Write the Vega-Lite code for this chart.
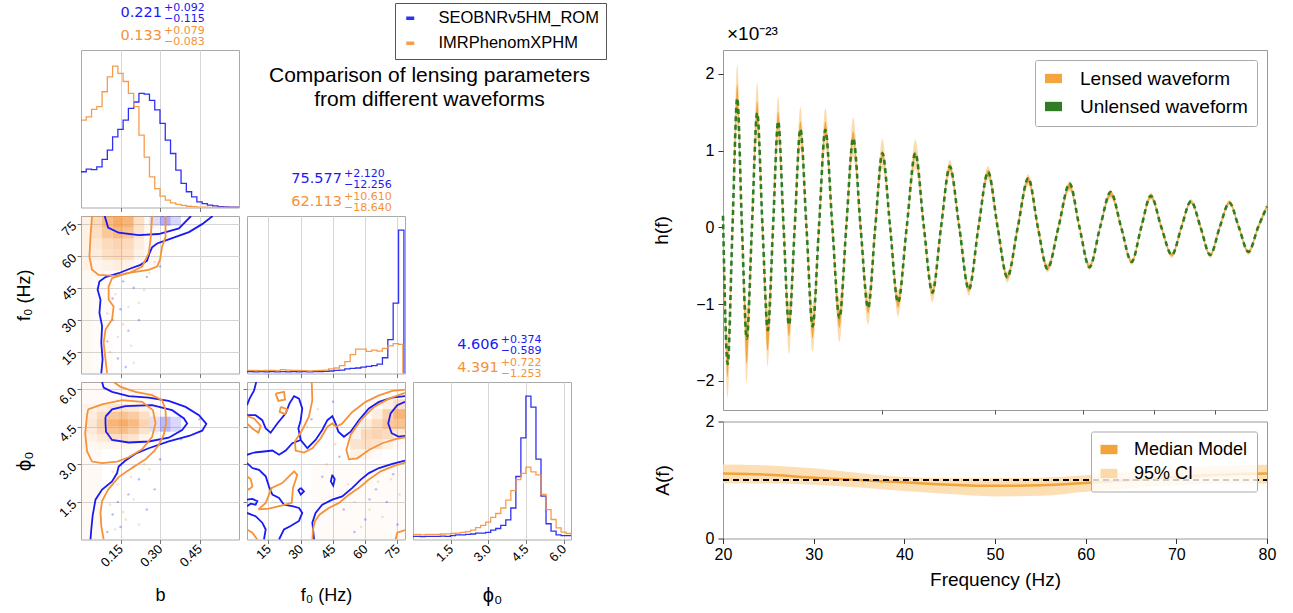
{
"$schema": "https://vega.github.io/schema/vega-lite/v6.json",
"background": "white",
"padding": {"left": 13, "top": 1, "right": 5, "bottom": 5},
"config": {
 "font": "Liberation Sans",
 "view": {"stroke": "#aaaaaa"},
 "axis": {"labelFont": "Liberation Sans", "titleFont": "Liberation Sans", "titleFontWeight": "normal", "labelColor": "#000000", "titleColor": "#000000", "domain": false, "tickColor": "#777777", "gridColor": "#d6d6d6", "tickSize": 4, "labelOverlap": false, "labelFlush": false},
 "legend": {"labelFont": "Liberation Sans", "labelColor": "#000000", "labelLimit": 400},
 "title": {"font": "Liberation Sans", "fontWeight": "normal", "color": "#000000"}
},
"datasets": {
 "hb": [
  {"m":"S","b":0,"v":0.227},{"m":"S","b":0.02,"v":0.244},{"m":"S","b":0.04,"v":0.24},{"m":"S","b":0.06,"v":0.258},{"m":"S","b":0.08,"v":0.305},{"m":"S","b":0.1,"v":0.364},{"m":"S","b":0.12,"v":0.449},{"m":"S","b":0.14,"v":0.496},{"m":"S","b":0.16,"v":0.555},{"m":"S","b":0.18,"v":0.63},{"m":"S","b":0.2,"v":0.67},{"m":"S","b":0.22,"v":0.725},{"m":"S","b":0.24,"v":0.72},{"m":"S","b":0.26,"v":0.68},{"m":"S","b":0.28,"v":0.62},{"m":"S","b":0.3,"v":0.534},{"m":"S","b":0.32,"v":0.428},{"m":"S","b":0.34,"v":0.343},{"m":"S","b":0.36,"v":0.237},{"m":"S","b":0.38,"v":0.153},{"m":"S","b":0.4,"v":0.1},{"m":"S","b":0.42,"v":0.068},{"m":"S","b":0.44,"v":0.036},{"m":"S","b":0.46,"v":0.025},{"m":"S","b":0.48,"v":0.015},{"m":"S","b":0.5,"v":0.01},{"m":"S","b":0.52,"v":0.006},{"m":"S","b":0.54,"v":0.004},{"m":"S","b":0.56,"v":0.003},{"m":"S","b":0.58,"v":0.002},{"m":"S","b":0.6,"v":0.002},
  {"m":"O","b":0,"v":0.555},{"m":"O","b":0.02,"v":0.576},{"m":"O","b":0.04,"v":0.623},{"m":"O","b":0.06,"v":0.64},{"m":"O","b":0.08,"v":0.735},{"m":"O","b":0.1,"v":0.83},{"m":"O","b":0.12,"v":0.898},{"m":"O","b":0.14,"v":0.852},{"m":"O","b":0.16,"v":0.8},{"m":"O","b":0.18,"v":0.725},{"m":"O","b":0.2,"v":0.64},{"m":"O","b":0.22,"v":0.46},{"m":"O","b":0.24,"v":0.32},{"m":"O","b":0.26,"v":0.195},{"m":"O","b":0.28,"v":0.12},{"m":"O","b":0.3,"v":0.072},{"m":"O","b":0.32,"v":0.047},{"m":"O","b":0.34,"v":0.03},{"m":"O","b":0.36,"v":0.02},{"m":"O","b":0.38,"v":0.013},{"m":"O","b":0.4,"v":0.008},{"m":"O","b":0.42,"v":0.005},{"m":"O","b":0.44,"v":0.003},{"m":"O","b":0.46,"v":0.002},{"m":"O","b":0.48,"v":0.001},{"m":"O","b":0.5,"v":0.001},{"m":"O","b":0.52,"v":0},{"m":"O","b":0.6,"v":0}
 ],
 "hf": [
  {"m":"S","f":5,"v":0.012},{"m":"S","f":8,"v":0.01},{"m":"S","f":10.5,"v":0.012},{"m":"S","f":13,"v":0.01},{"m":"S","f":15.5,"v":0.012},{"m":"S","f":18,"v":0.01},{"m":"S","f":20.5,"v":0.012},{"m":"S","f":23,"v":0.01},{"m":"S","f":25.5,"v":0.012},{"m":"S","f":28,"v":0.01},{"m":"S","f":30.5,"v":0.012},{"m":"S","f":33,"v":0.01},{"m":"S","f":35.5,"v":0.012},{"m":"S","f":38,"v":0.012},{"m":"S","f":40.5,"v":0.014},{"m":"S","f":43,"v":0.016},{"m":"S","f":45.5,"v":0.02},{"m":"S","f":48,"v":0.022},{"m":"S","f":50.5,"v":0.03},{"m":"S","f":53,"v":0.033},{"m":"S","f":55.5,"v":0.035},{"m":"S","f":58,"v":0.04},{"m":"S","f":60.5,"v":0.045},{"m":"S","f":63,"v":0.05},{"m":"S","f":65.5,"v":0.06},{"m":"S","f":68,"v":0.1},{"m":"S","f":70.5,"v":0.215},{"m":"S","f":73,"v":0.447},{"m":"S","f":75.5,"v":0.91},{"m":"S","f":78,"v":0},
  {"m":"O","f":5,"v":0.02},{"m":"O","f":8,"v":0.02},{"m":"O","f":10.5,"v":0.018},{"m":"O","f":13,"v":0.02},{"m":"O","f":15.5,"v":0.02},{"m":"O","f":18,"v":0.018},{"m":"O","f":20.5,"v":0.025},{"m":"O","f":23,"v":0.022},{"m":"O","f":25.5,"v":0.02},{"m":"O","f":28,"v":0.02},{"m":"O","f":30.5,"v":0.018},{"m":"O","f":33,"v":0.016},{"m":"O","f":35.5,"v":0.018},{"m":"O","f":38,"v":0.02},{"m":"O","f":40.5,"v":0.022},{"m":"O","f":43,"v":0.03},{"m":"O","f":45.5,"v":0.035},{"m":"O","f":48,"v":0.05},{"m":"O","f":50.5,"v":0.075},{"m":"O","f":53,"v":0.12},{"m":"O","f":55.5,"v":0.155},{"m":"O","f":58,"v":0.155},{"m":"O","f":60.5,"v":0.14},{"m":"O","f":63,"v":0.148},{"m":"O","f":65.5,"v":0.142},{"m":"O","f":68,"v":0.16},{"m":"O","f":70.5,"v":0.175},{"m":"O","f":73,"v":0.19},{"m":"O","f":75.5,"v":0.185},{"m":"O","f":77.5,"v":0}
 ],
 "hp": [
  {"m":"S","p":0,"v":0.02},{"m":"S","p":0.29,"v":0.018},{"m":"S","p":0.49,"v":0.02},{"m":"S","p":0.69,"v":0.02},{"m":"S","p":0.89,"v":0.02},{"m":"S","p":1.09,"v":0.022},{"m":"S","p":1.29,"v":0.02},{"m":"S","p":1.49,"v":0.025},{"m":"S","p":1.69,"v":0.03},{"m":"S","p":1.89,"v":0.03},{"m":"S","p":2.09,"v":0.032},{"m":"S","p":2.29,"v":0.035},{"m":"S","p":2.49,"v":0.04},{"m":"S","p":2.69,"v":0.04},{"m":"S","p":2.89,"v":0.045},{"m":"S","p":3.09,"v":0.06},{"m":"S","p":3.29,"v":0.07},{"m":"S","p":3.49,"v":0.09},{"m":"S","p":3.69,"v":0.125},{"m":"S","p":3.89,"v":0.2},{"m":"S","p":4.09,"v":0.4},{"m":"S","p":4.29,"v":0.645},{"m":"S","p":4.49,"v":0.91},{"m":"S","p":4.69,"v":0.84},{"m":"S","p":4.89,"v":0.51},{"m":"S","p":5.09,"v":0.275},{"m":"S","p":5.29,"v":0.1},{"m":"S","p":5.49,"v":0.053},{"m":"S","p":5.69,"v":0.03},{"m":"S","p":5.89,"v":0.025},{"m":"S","p":6.09,"v":0.025},{"m":"S","p":6.283,"v":0.025},
  {"m":"O","p":0,"v":0.032},{"m":"O","p":0.29,"v":0.03},{"m":"O","p":0.49,"v":0.032},{"m":"O","p":0.69,"v":0.032},{"m":"O","p":0.89,"v":0.033},{"m":"O","p":1.09,"v":0.035},{"m":"O","p":1.29,"v":0.036},{"m":"O","p":1.49,"v":0.038},{"m":"O","p":1.69,"v":0.04},{"m":"O","p":1.89,"v":0.045},{"m":"O","p":2.09,"v":0.05},{"m":"O","p":2.29,"v":0.06},{"m":"O","p":2.49,"v":0.075},{"m":"O","p":2.69,"v":0.09},{"m":"O","p":2.89,"v":0.11},{"m":"O","p":3.09,"v":0.14},{"m":"O","p":3.29,"v":0.165},{"m":"O","p":3.49,"v":0.2},{"m":"O","p":3.69,"v":0.25},{"m":"O","p":3.89,"v":0.31},{"m":"O","p":4.09,"v":0.38},{"m":"O","p":4.29,"v":0.42},{"m":"O","p":4.49,"v":0.46},{"m":"O","p":4.69,"v":0.43},{"m":"O","p":4.89,"v":0.41},{"m":"O","p":5.09,"v":0.286},{"m":"O","p":5.29,"v":0.19},{"m":"O","p":5.49,"v":0.127},{"m":"O","p":5.69,"v":0.074},{"m":"O","p":5.89,"v":0.047},{"m":"O","p":6.09,"v":0.038},{"m":"O","p":6.283,"v":0.038}
 ],
 "ann": [
  {"param":"b","m":"S","main":"0.221","sup":"+0.092","sub":"−0.115"},
  {"param":"b","m":"O","main":"0.133","sup":"+0.079","sub":"−0.083"},
  {"param":"f0","m":"S","main":"75.577","sup":"+2.120","sub":"−12.256"},
  {"param":"f0","m":"O","main":"62.113","sup":"+10.610","sub":"−18.640"},
  {"param":"phi0","m":"S","main":"4.606","sup":"+0.374","sub":"−0.589"},
  {"param":"phi0","m":"O","main":"4.391","sup":"+0.722","sub":"−1.253"}
 ],
 "dbf": [
  {"m":"O","b1":0.04,"b2":0.08,"f1":73,"f2":78.5,"d":0.4},{"m":"O","b1":0.08,"b2":0.12,"f1":73,"f2":78.5,"d":0.75},{"m":"O","b1":0.12,"b2":0.16,"f1":73,"f2":78.5,"d":0.9},{"m":"O","b1":0.16,"b2":0.2,"f1":73,"f2":78.5,"d":0.8},{"m":"O","b1":0.2,"b2":0.24,"f1":73,"f2":78.5,"d":0.35},
  {"m":"O","b1":0.04,"b2":0.08,"f1":68,"f2":73,"d":0.35},{"m":"O","b1":0.08,"b2":0.12,"f1":68,"f2":73,"d":0.6},{"m":"O","b1":0.12,"b2":0.16,"f1":68,"f2":73,"d":0.75},{"m":"O","b1":0.16,"b2":0.2,"f1":68,"f2":73,"d":0.65},{"m":"O","b1":0.2,"b2":0.24,"f1":68,"f2":73,"d":0.3},
  {"m":"O","b1":0.04,"b2":0.08,"f1":63,"f2":68,"d":0.25},{"m":"O","b1":0.08,"b2":0.12,"f1":63,"f2":68,"d":0.4},{"m":"O","b1":0.12,"b2":0.16,"f1":63,"f2":68,"d":0.45},{"m":"O","b1":0.16,"b2":0.2,"f1":63,"f2":68,"d":0.4},{"m":"O","b1":0.2,"b2":0.24,"f1":63,"f2":68,"d":0.2},
  {"m":"O","b1":0.04,"b2":0.08,"f1":58,"f2":63,"d":0.2},{"m":"O","b1":0.08,"b2":0.12,"f1":58,"f2":63,"d":0.35},{"m":"O","b1":0.12,"b2":0.16,"f1":58,"f2":63,"d":0.4},{"m":"O","b1":0.16,"b2":0.2,"f1":58,"f2":63,"d":0.35},{"m":"O","b1":0.2,"b2":0.24,"f1":58,"f2":63,"d":0.15},
  {"m":"O","b1":0.04,"b2":0.08,"f1":53,"f2":58,"d":0.1},{"m":"O","b1":0.08,"b2":0.12,"f1":53,"f2":58,"d":0.15},{"m":"O","b1":0.12,"b2":0.16,"f1":53,"f2":58,"d":0.2},{"m":"O","b1":0.16,"b2":0.2,"f1":53,"f2":58,"d":0.15},{"m":"O","b1":0.2,"b2":0.24,"f1":53,"f2":58,"d":0.05},
  {"m":"O","b1":0,"b2":0.04,"f1":53,"f2":78.5,"d":0.15},{"m":"O","b1":0,"b2":0.04,"f1":5,"f2":53,"d":0.08},{"m":"O","b1":0.04,"b2":0.12,"f1":5,"f2":53,"d":0.04},{"m":"O","b1":0.24,"b2":0.3,"f1":53,"f2":78.5,"d":0.06},
  {"m":"S","b1":0.26,"b2":0.3,"f1":74,"f2":78.5,"d":0.15},{"m":"S","b1":0.3,"b2":0.34,"f1":74,"f2":78.5,"d":0.4},{"m":"S","b1":0.34,"b2":0.38,"f1":74,"f2":78.5,"d":0.2}
 ],
 "dpb": [
  {"m":"O","b1":0.02,"b2":0.06,"p1":5.1,"p2":5.4,"d":0.12},{"m":"O","b1":0.06,"b2":0.1,"p1":5.1,"p2":5.4,"d":0.2},{"m":"O","b1":0.1,"b2":0.14,"p1":5.1,"p2":5.4,"d":0.28},{"m":"O","b1":0.14,"b2":0.18,"p1":5.1,"p2":5.4,"d":0.3},{"m":"O","b1":0.18,"b2":0.22,"p1":5.1,"p2":5.4,"d":0.25},{"m":"O","b1":0.22,"b2":0.26,"p1":5.1,"p2":5.4,"d":0.15},{"m":"O","b1":0.26,"b2":0.3,"p1":5.1,"p2":5.4,"d":0.05},
  {"m":"O","b1":0.02,"b2":0.06,"p1":4.8,"p2":5.1,"d":0.2},{"m":"O","b1":0.06,"b2":0.1,"p1":4.8,"p2":5.1,"d":0.4},{"m":"O","b1":0.1,"b2":0.14,"p1":4.8,"p2":5.1,"d":0.6},{"m":"O","b1":0.14,"b2":0.18,"p1":4.8,"p2":5.1,"d":0.65},{"m":"O","b1":0.18,"b2":0.22,"p1":4.8,"p2":5.1,"d":0.55},{"m":"O","b1":0.22,"b2":0.26,"p1":4.8,"p2":5.1,"d":0.35},{"m":"O","b1":0.26,"b2":0.3,"p1":4.8,"p2":5.1,"d":0.1},
  {"m":"O","b1":0.02,"b2":0.06,"p1":4.5,"p2":4.8,"d":0.25},{"m":"O","b1":0.06,"b2":0.1,"p1":4.5,"p2":4.8,"d":0.5},{"m":"O","b1":0.1,"b2":0.14,"p1":4.5,"p2":4.8,"d":0.8},{"m":"O","b1":0.14,"b2":0.18,"p1":4.5,"p2":4.8,"d":0.9},{"m":"O","b1":0.18,"b2":0.22,"p1":4.5,"p2":4.8,"d":0.75},{"m":"O","b1":0.22,"b2":0.26,"p1":4.5,"p2":4.8,"d":0.45},{"m":"O","b1":0.26,"b2":0.3,"p1":4.5,"p2":4.8,"d":0.12},
  {"m":"O","b1":0.02,"b2":0.06,"p1":4.2,"p2":4.5,"d":0.22},{"m":"O","b1":0.06,"b2":0.1,"p1":4.2,"p2":4.5,"d":0.42},{"m":"O","b1":0.1,"b2":0.14,"p1":4.2,"p2":4.5,"d":0.65},{"m":"O","b1":0.14,"b2":0.18,"p1":4.2,"p2":4.5,"d":0.7},{"m":"O","b1":0.18,"b2":0.22,"p1":4.2,"p2":4.5,"d":0.55},{"m":"O","b1":0.22,"b2":0.26,"p1":4.2,"p2":4.5,"d":0.3},{"m":"O","b1":0.26,"b2":0.3,"p1":4.2,"p2":4.5,"d":0.08},
  {"m":"O","b1":0.02,"b2":0.06,"p1":3.9,"p2":4.2,"d":0.15},{"m":"O","b1":0.06,"b2":0.1,"p1":3.9,"p2":4.2,"d":0.25},{"m":"O","b1":0.1,"b2":0.14,"p1":3.9,"p2":4.2,"d":0.35},{"m":"O","b1":0.14,"b2":0.18,"p1":3.9,"p2":4.2,"d":0.35},{"m":"O","b1":0.18,"b2":0.22,"p1":3.9,"p2":4.2,"d":0.28},{"m":"O","b1":0.22,"b2":0.26,"p1":3.9,"p2":4.2,"d":0.12},{"m":"O","b1":0.26,"b2":0.3,"p1":3.9,"p2":4.2,"d":0.03},
  {"m":"O","b1":0.02,"b2":0.06,"p1":3.6,"p2":3.9,"d":0.08},{"m":"O","b1":0.06,"b2":0.1,"p1":3.6,"p2":3.9,"d":0.1},{"m":"O","b1":0.1,"b2":0.14,"p1":3.6,"p2":3.9,"d":0.12},{"m":"O","b1":0.14,"b2":0.18,"p1":3.6,"p2":3.9,"d":0.1},{"m":"O","b1":0.18,"b2":0.22,"p1":3.6,"p2":3.9,"d":0.06},{"m":"O","b1":0.22,"b2":0.26,"p1":3.6,"p2":3.9,"d":0.03},
  {"m":"O","b1":0,"b2":0.02,"p1":3.6,"p2":5.4,"d":0.12},{"m":"O","b1":0,"b2":0.08,"p1":0,"p2":3.6,"d":0.06},{"m":"O","b1":0,"b2":0.3,"p1":5.4,"p2":6.283,"d":0.05},
  {"m":"S","b1":0.26,"b2":0.3,"p1":4.3,"p2":4.9,"d":0.12},{"m":"S","b1":0.3,"b2":0.34,"p1":4.3,"p2":4.9,"d":0.35},{"m":"S","b1":0.34,"b2":0.38,"p1":4.3,"p2":4.9,"d":0.2}
 ],
 "dpf": [
  {"m":"O","f1":73,"f2":78.5,"p1":3.6,"p2":4.0,"d":0.05},{"m":"O","f1":73,"f2":78.5,"p1":4.0,"p2":4.4,"d":0.25},{"m":"O","f1":73,"f2":78.5,"p1":4.4,"p2":4.8,"d":0.65},{"m":"O","f1":73,"f2":78.5,"p1":4.8,"p2":5.2,"d":0.8},{"m":"O","f1":73,"f2":78.5,"p1":5.2,"p2":5.6,"d":0.35},
  {"m":"O","f1":68,"f2":73,"p1":3.6,"p2":4.0,"d":0.15},{"m":"O","f1":68,"f2":73,"p1":4.0,"p2":4.4,"d":0.4},{"m":"O","f1":68,"f2":73,"p1":4.4,"p2":4.8,"d":0.6},{"m":"O","f1":68,"f2":73,"p1":4.8,"p2":5.2,"d":0.5},{"m":"O","f1":68,"f2":73,"p1":5.2,"p2":5.6,"d":0.15},
  {"m":"O","f1":63,"f2":68,"p1":3.2,"p2":3.6,"d":0.05},{"m":"O","f1":63,"f2":68,"p1":3.6,"p2":4.0,"d":0.3},{"m":"O","f1":63,"f2":68,"p1":4.0,"p2":4.4,"d":0.45},{"m":"O","f1":63,"f2":68,"p1":4.4,"p2":4.8,"d":0.4},{"m":"O","f1":63,"f2":68,"p1":4.8,"p2":5.2,"d":0.2},{"m":"O","f1":63,"f2":68,"p1":5.2,"p2":5.6,"d":0.05},
  {"m":"O","f1":58,"f2":63,"p1":3.2,"p2":3.6,"d":0.1},{"m":"O","f1":58,"f2":63,"p1":3.6,"p2":4.0,"d":0.35},{"m":"O","f1":58,"f2":63,"p1":4.0,"p2":4.4,"d":0.4},{"m":"O","f1":58,"f2":63,"p1":4.4,"p2":4.8,"d":0.2},{"m":"O","f1":58,"f2":63,"p1":4.8,"p2":5.2,"d":0.05},
  {"m":"O","f1":53,"f2":58,"p1":3.2,"p2":3.6,"d":0.15},{"m":"O","f1":53,"f2":58,"p1":3.6,"p2":4.0,"d":0.3},{"m":"O","f1":53,"f2":58,"p1":4.0,"p2":4.4,"d":0.15},{"m":"O","f1":53,"f2":58,"p1":4.4,"p2":4.8,"d":0.03},
  {"m":"O","f1":35,"f2":78.5,"p1":0,"p2":3.0,"d":0.04}
 ],
 "pbf": [
  {"m":"S","b":0.12,"f0":40},{"m":"S","b":0.15,"f0":35},{"m":"S","b":0.18,"f0":25},{"m":"S","b":0.1,"f0":20},{"m":"S","b":0.14,"f0":12},{"m":"S","b":0.2,"f0":45},{"m":"S","b":0.25,"f0":50},{"m":"S","b":0.17,"f0":8},{"m":"S","b":0.3,"f0":55},{"m":"S","b":0.12,"f0":30},{"m":"S","b":0.22,"f0":30},{"m":"S","b":0.16,"f0":48},
  {"m":"O","b":0.13,"f0":42},{"m":"O","b":0.16,"f0":28},{"m":"O","b":0.11,"f0":15},{"m":"O","b":0.22,"f0":38},{"m":"O","b":0.19,"f0":18},{"m":"O","b":0.26,"f0":52},{"m":"O","b":0.14,"f0":22},{"m":"O","b":0.2,"f0":10},{"m":"O","b":0.28,"f0":57},{"m":"O","b":0.1,"f0":33},{"m":"O","b":0.24,"f0":44},{"m":"O","b":0.18,"f0":36}
 ],
 "ppb": [
  {"m":"S","b":0.12,"p":1.0},{"m":"S","b":0.15,"p":0.5},{"m":"S","b":0.18,"p":1.8},{"m":"S","b":0.22,"p":2.4},{"m":"S","b":0.3,"p":3.2},{"m":"S","b":0.25,"p":1.2},{"m":"S","b":0.38,"p":4.0},{"m":"S","b":0.45,"p":4.8},{"m":"S","b":0.1,"p":0.3},{"m":"S","b":0.2,"p":2.9},{"m":"S","b":0.28,"p":2.0},{"m":"S","b":0.14,"p":1.5},
  {"m":"O","b":0.11,"p":1.4},{"m":"O","b":0.14,"p":2.2},{"m":"O","b":0.17,"p":0.8},{"m":"O","b":0.2,"p":1.6},{"m":"O","b":0.26,"p":2.8},{"m":"O","b":0.13,"p":0.4},{"m":"O","b":0.24,"p":3.0},{"m":"O","b":0.19,"p":2.5},{"m":"O","b":0.28,"p":3.5},{"m":"O","b":0.16,"p":1.1},{"m":"O","b":0.22,"p":0.6},{"m":"O","b":0.12,"p":2.7}
 ],
 "ppf": [
  {"m":"S","f":40,"p":2.5},{"m":"S","f":50,"p":1.2},{"m":"S","f":60,"p":0.8},{"m":"S","f":70,"p":1.5},{"m":"S","f":45,"p":5.5},{"m":"S","f":55,"p":0.3},{"m":"S","f":65,"p":2.0},{"m":"S","f":75,"p":0.6},{"m":"S","f":35,"p":4.8},{"m":"S","f":48,"p":3.3},{"m":"S","f":62,"p":1.6},{"m":"S","f":73,"p":2.6},
  {"m":"O","f":42,"p":3.0},{"m":"O","f":52,"p":2.2},{"m":"O","f":62,"p":1.2},{"m":"O","f":72,"p":2.4},{"m":"O","f":38,"p":5.2},{"m":"O","f":58,"p":0.5},{"m":"O","f":68,"p":0.9},{"m":"O","f":76,"p":1.8},{"m":"O","f":33,"p":4.5},{"m":"O","f":46,"p":3.8},{"m":"O","f":55,"p":1.5},{"m":"O","f":66,"p":2.3}
 ],
 "cbf": [
  {"m":"S","c":"a","i":0,"b":0.5,"f0":78.5},{"m":"S","c":"a","i":1,"b":0.46,"f0":74.7},{"m":"S","c":"a","i":2,"b":0.41,"f0":71.0},{"m":"S","c":"a","i":3,"b":0.333,"f0":67.6},{"m":"S","c":"a","i":4,"b":0.289,"f0":65.7},{"m":"S","c":"a","i":5,"b":0.27,"f0":63.9},{"m":"S","c":"a","i":6,"b":0.26,"f0":61.1},{"m":"S","c":"a","i":7,"b":0.251,"f0":57.7},{"m":"S","c":"a","i":8,"b":0.226,"f0":55.7},{"m":"S","c":"a","i":9,"b":0.188,"f0":54.0},{"m":"S","c":"a","i":10,"b":0.143,"f0":51.8},{"m":"S","c":"a","i":11,"b":0.093,"f0":50.0},{"m":"S","c":"a","i":12,"b":0.07,"f0":47.9},{"m":"S","c":"a","i":13,"b":0.063,"f0":44.1},{"m":"S","c":"a","i":14,"b":0.074,"f0":39.4},{"m":"S","c":"a","i":15,"b":0.07,"f0":33.3},{"m":"S","c":"a","i":16,"b":0.08,"f0":27.1},{"m":"S","c":"a","i":17,"b":0.077,"f0":19.3},{"m":"S","c":"a","i":18,"b":0.082,"f0":11.6},{"m":"S","c":"a","i":19,"b":0.077,"f0":5.0},
  {"m":"S","c":"b","i":0,"b":0.09,"f0":78.5},{"m":"S","c":"b","i":1,"b":0.103,"f0":73.1},{"m":"S","c":"b","i":2,"b":0.143,"f0":70.7},{"m":"S","c":"b","i":3,"b":0.219,"f0":69.6},{"m":"S","c":"b","i":4,"b":0.295,"f0":70.1},{"m":"S","c":"b","i":5,"b":0.372,"f0":72.7},{"m":"S","c":"b","i":6,"b":0.418,"f0":78.5},
  {"m":"O","c":"c","i":0,"b":0.321,"f0":78.5},{"m":"O","c":"c","i":1,"b":0.321,"f0":68.8},{"m":"O","c":"c","i":2,"b":0.308,"f0":64.2},{"m":"O","c":"c","i":3,"b":0.3,"f0":58.0},{"m":"O","c":"c","i":4,"b":0.289,"f0":54.9},{"m":"O","c":"c","i":5,"b":0.257,"f0":53.4},{"m":"O","c":"c","i":6,"b":0.175,"f0":51.8},{"m":"O","c":"c","i":7,"b":0.118,"f0":49.5},{"m":"O","c":"c","i":8,"b":0.105,"f0":45.6},{"m":"O","c":"c","i":9,"b":0.105,"f0":39.4},{"m":"O","c":"c","i":10,"b":0.124,"f0":36.3},{"m":"O","c":"c","i":11,"b":0.118,"f0":30.2},{"m":"O","c":"c","i":12,"b":0.093,"f0":25.5},{"m":"O","c":"c","i":13,"b":0.086,"f0":19.3},{"m":"O","c":"c","i":14,"b":0.093,"f0":11.6},{"m":"O","c":"c","i":15,"b":0.099,"f0":5.0},
  {"m":"O","c":"d","i":0,"b":0.042,"f0":78.5},{"m":"O","c":"d","i":1,"b":0.036,"f0":68.8},{"m":"O","c":"d","i":2,"b":0.032,"f0":59.5},{"m":"O","c":"d","i":3,"b":0.042,"f0":53.4},{"m":"O","c":"d","i":4,"b":0.067,"f0":51.0},{"m":"O","c":"d","i":5,"b":0.131,"f0":50.6},{"m":"O","c":"d","i":6,"b":0.181,"f0":51.8},{"m":"O","c":"d","i":7,"b":0.232,"f0":54.9},{"m":"O","c":"d","i":8,"b":0.257,"f0":61.1},{"m":"O","c":"d","i":9,"b":0.264,"f0":67.3},{"m":"O","c":"d","i":10,"b":0.27,"f0":78.5}
 ],
 "cpb": [
  {"m":"S","c":"a","i":0,"b":0.08,"p":6.283},{"m":"S","c":"a","i":1,"b":0.086,"p":6.06},{"m":"S","c":"a","i":2,"b":0.118,"p":5.89},{"m":"S","c":"a","i":3,"b":0.181,"p":5.72},{"m":"S","c":"a","i":4,"b":0.257,"p":5.66},{"m":"S","c":"a","i":5,"b":0.333,"p":5.53},{"m":"S","c":"a","i":6,"b":0.397,"p":5.29},{"m":"S","c":"a","i":7,"b":0.448,"p":4.96},{"m":"S","c":"a","i":8,"b":0.476,"p":4.61},{"m":"S","c":"a","i":9,"b":0.46,"p":4.34},{"m":"S","c":"a","i":10,"b":0.41,"p":4.13},{"m":"S","c":"a","i":11,"b":0.333,"p":3.91},{"m":"S","c":"a","i":12,"b":0.257,"p":3.64},{"m":"S","c":"a","i":13,"b":0.207,"p":3.42},{"m":"S","c":"a","i":14,"b":0.169,"p":3.15},{"m":"S","c":"a","i":15,"b":0.143,"p":2.91},{"m":"S","c":"a","i":16,"b":0.137,"p":2.65},{"m":"S","c":"a","i":17,"b":0.118,"p":2.32},{"m":"S","c":"a","i":18,"b":0.08,"p":1.99},{"m":"S","c":"a","i":19,"b":0.055,"p":1.59},{"m":"S","c":"a","i":20,"b":0.044,"p":0.93},{"m":"S","c":"a","i":21,"b":0.039,"p":0.4},{"m":"S","c":"a","i":22,"b":0.036,"p":0},
  {"m":"S","c":"b","i":0,"b":0.093,"p":4.9},{"m":"S","c":"b","i":1,"b":0.118,"p":5.19},{"m":"S","c":"b","i":2,"b":0.169,"p":5.32},{"m":"S","c":"b","i":3,"b":0.27,"p":5.36},{"m":"S","c":"b","i":4,"b":0.346,"p":5.16},{"m":"S","c":"b","i":5,"b":0.391,"p":4.83},{"m":"S","c":"b","i":6,"b":0.403,"p":4.63},{"m":"S","c":"b","i":7,"b":0.384,"p":4.37},{"m":"S","c":"b","i":8,"b":0.333,"p":4.06},{"m":"S","c":"b","i":9,"b":0.257,"p":3.91},{"m":"S","c":"b","i":10,"b":0.181,"p":3.87},{"m":"S","c":"b","i":11,"b":0.118,"p":3.97},{"m":"S","c":"b","i":12,"b":0.095,"p":4.3},{"m":"S","c":"b","i":13,"b":0.093,"p":4.63},{"m":"S","c":"b","i":14,"b":0.093,"p":4.9},
  {"m":"O","c":"c","i":0,"b":0.124,"p":6.283},{"m":"O","c":"c","i":1,"b":0.15,"p":6.09},{"m":"O","c":"c","i":2,"b":0.207,"p":5.89},{"m":"O","c":"c","i":3,"b":0.27,"p":5.76},{"m":"O","c":"c","i":4,"b":0.308,"p":5.56},{"m":"O","c":"c","i":5,"b":0.321,"p":5.16},{"m":"O","c":"c","i":6,"b":0.323,"p":4.63},{"m":"O","c":"c","i":7,"b":0.314,"p":4.17},{"m":"O","c":"c","i":8,"b":0.295,"p":3.77},{"m":"O","c":"c","i":9,"b":0.276,"p":3.51},{"m":"O","c":"c","i":10,"b":0.245,"p":3.2},{"m":"O","c":"c","i":11,"b":0.207,"p":2.94},{"m":"O","c":"c","i":12,"b":0.175,"p":2.72},{"m":"O","c":"c","i":13,"b":0.143,"p":2.49},{"m":"O","c":"c","i":14,"b":0.103,"p":1.99},{"m":"O","c":"c","i":15,"b":0.08,"p":1.53},{"m":"O","c":"c","i":16,"b":0.074,"p":1.06},{"m":"O","c":"c","i":17,"b":0.077,"p":0.54},{"m":"O","c":"c","i":18,"b":0.086,"p":0},
  {"m":"O","c":"d","i":0,"b":0.027,"p":5.19},{"m":"O","c":"d","i":1,"b":0.08,"p":5.39},{"m":"O","c":"d","i":2,"b":0.156,"p":5.56},{"m":"O","c":"d","i":3,"b":0.232,"p":5.49},{"m":"O","c":"d","i":4,"b":0.273,"p":5.16},{"m":"O","c":"d","i":5,"b":0.283,"p":4.63},{"m":"O","c":"d","i":6,"b":0.27,"p":4.1},{"m":"O","c":"d","i":7,"b":0.232,"p":3.6},{"m":"O","c":"d","i":8,"b":0.181,"p":3.28},{"m":"O","c":"d","i":9,"b":0.137,"p":3.11},{"m":"O","c":"d","i":10,"b":0.08,"p":3.05},{"m":"O","c":"d","i":11,"b":0.042,"p":3.11},{"m":"O","c":"d","i":12,"b":0.023,"p":3.51},{"m":"O","c":"d","i":13,"b":0.016,"p":4.24},{"m":"O","c":"d","i":14,"b":0.023,"p":4.96},{"m":"O","c":"d","i":15,"b":0.027,"p":5.19}
 ],
 "cpf": [
  {"m":"S","c":"b1","i":0,"f":9.3,"p":6.283},{"m":"S","c":"b1","i":1,"f":8.3,"p":5.95},{"m":"S","c":"b1","i":2,"f":6.2,"p":5.62},{"m":"S","c":"b1","i":3,"f":5.0,"p":5.36},
  {"m":"S","c":"b2","i":0,"f":5.0,"p":4.96},{"m":"S","c":"b2","i":1,"f":9.0,"p":4.96},{"m":"S","c":"b2","i":2,"f":12.1,"p":4.76},{"m":"S","c":"b2","i":3,"f":13.7,"p":4.43},{"m":"S","c":"b2","i":4,"f":16.0,"p":4.26},{"m":"S","c":"b2","i":5,"f":19.1,"p":4.63},{"m":"S","c":"b2","i":6,"f":23.0,"p":5.03},{"m":"S","c":"b2","i":7,"f":24.8,"p":5.43},{"m":"S","c":"b2","i":8,"f":26.9,"p":5.72},{"m":"S","c":"b2","i":9,"f":29.2,"p":5.62},{"m":"S","c":"b2","i":10,"f":30.7,"p":5.23},{"m":"S","c":"b2","i":11,"f":30.0,"p":4.76},{"m":"S","c":"b2","i":12,"f":28.9,"p":4.43},{"m":"S","c":"b2","i":13,"f":30.0,"p":3.97},{"m":"S","c":"b2","i":14,"f":33.1,"p":3.64},{"m":"S","c":"b2","i":15,"f":36.9,"p":3.97},{"m":"S","c":"b2","i":16,"f":40.0,"p":4.37},{"m":"S","c":"b2","i":17,"f":42.4,"p":4.76},{"m":"S","c":"b2","i":18,"f":44.7,"p":4.92},{"m":"S","c":"b2","i":19,"f":46.2,"p":4.63},{"m":"S","c":"b2","i":20,"f":47.5,"p":4.3},{"m":"S","c":"b2","i":21,"f":50.1,"p":4.1},{"m":"S","c":"b2","i":22,"f":53.2,"p":4.3},{"m":"S","c":"b2","i":23,"f":57.1,"p":4.76},{"m":"S","c":"b2","i":24,"f":61.7,"p":5.23},{"m":"S","c":"b2","i":25,"f":66.4,"p":5.49},{"m":"S","c":"b2","i":26,"f":72.6,"p":5.66},{"m":"S","c":"b2","i":27,"f":78.5,"p":5.72},
  {"m":"S","c":"b3","i":0,"f":78.5,"p":5.49},{"m":"S","c":"b3","i":1,"f":74.9,"p":5.36},{"m":"S","c":"b3","i":2,"f":71.8,"p":5.03},{"m":"S","c":"b3","i":3,"f":70.7,"p":4.63},{"m":"S","c":"b3","i":4,"f":72.3,"p":4.24},{"m":"S","c":"b3","i":5,"f":75.7,"p":4.1},{"m":"S","c":"b3","i":6,"f":78.5,"p":4.13},
  {"m":"S","c":"b4","i":0,"f":5.0,"p":3.38},{"m":"S","c":"b4","i":1,"f":8.3,"p":3.47},{"m":"S","c":"b4","i":2,"f":12.9,"p":3.51},{"m":"S","c":"b4","i":3,"f":16.8,"p":3.55},{"m":"S","c":"b4","i":4,"f":19.9,"p":3.38},{"m":"S","c":"b4","i":5,"f":23.0,"p":3.55},{"m":"S","c":"b4","i":6,"f":26.1,"p":3.84},{"m":"S","c":"b4","i":7,"f":30.0,"p":3.97},
  {"m":"S","c":"b5","i":0,"f":78.5,"p":3.15},{"m":"S","c":"b5","i":1,"f":72.6,"p":3.02},{"m":"S","c":"b5","i":2,"f":66.4,"p":2.85},{"m":"S","c":"b5","i":3,"f":61.7,"p":2.65},{"m":"S","c":"b5","i":4,"f":57.9,"p":2.39},{"m":"S","c":"b5","i":5,"f":54.0,"p":2.06},{"m":"S","c":"b5","i":6,"f":49.3,"p":1.72},{"m":"S","c":"b5","i":7,"f":44.7,"p":1.59},{"m":"S","c":"b5","i":8,"f":40.0,"p":1.39},{"m":"S","c":"b5","i":9,"f":36.9,"p":1.06},{"m":"S","c":"b5","i":10,"f":35.4,"p":0.67},{"m":"S","c":"b5","i":11,"f":36.2,"p":0},
  {"m":"S","c":"b6","i":0,"f":5.0,"p":3.05},{"m":"S","c":"b6","i":1,"f":7.5,"p":2.85},{"m":"S","c":"b6","i":2,"f":10.6,"p":2.78},{"m":"S","c":"b6","i":3,"f":13.7,"p":2.52},{"m":"S","c":"b6","i":4,"f":15.2,"p":2.12},{"m":"S","c":"b6","i":5,"f":16.8,"p":1.79},{"m":"S","c":"b6","i":6,"f":19.9,"p":1.66},{"m":"S","c":"b6","i":7,"f":22.2,"p":1.39},{"m":"S","c":"b6","i":8,"f":26.1,"p":1.33},{"m":"S","c":"b6","i":9,"f":29.2,"p":1.26},{"m":"S","c":"b6","i":10,"f":30.7,"p":1.06},{"m":"S","c":"b6","i":11,"f":29.2,"p":0.74},{"m":"S","c":"b6","i":12,"f":25.3,"p":0.54},{"m":"S","c":"b6","i":13,"f":22.2,"p":0.4},{"m":"S","c":"b6","i":14,"f":19.9,"p":0},
  {"m":"S","c":"b7","i":0,"f":5.0,"p":1.59},{"m":"S","c":"b7","i":1,"f":7.5,"p":1.62},{"m":"S","c":"b7","i":2,"f":9.8,"p":1.53},{"m":"S","c":"b7","i":3,"f":9.0,"p":1.39},{"m":"S","c":"b7","i":4,"f":6.7,"p":1.43},{"m":"S","c":"b7","i":5,"f":5.0,"p":1.33},
  {"m":"S","c":"b8","i":0,"f":5.0,"p":1.06},{"m":"S","c":"b8","i":1,"f":9.0,"p":0.93},{"m":"S","c":"b8","i":2,"f":12.1,"p":0.67},{"m":"S","c":"b8","i":3,"f":13.7,"p":0.4},{"m":"S","c":"b8","i":4,"f":12.9,"p":0},
  {"m":"S","c":"b9","i":0,"f":44.7,"p":2.58},{"m":"S","c":"b9","i":1,"f":45.8,"p":2.41},{"m":"S","c":"b9","i":2,"f":45.1,"p":2.15},{"m":"S","c":"b9","i":3,"f":44.0,"p":2.32},{"m":"S","c":"b9","i":4,"f":44.7,"p":2.58},
  {"m":"S","c":"b10","i":0,"f":30.0,"p":2.06},{"m":"S","c":"b10","i":1,"f":31.5,"p":1.92},{"m":"S","c":"b10","i":2,"f":30.0,"p":1.79},{"m":"S","c":"b10","i":3,"f":28.9,"p":1.96},{"m":"S","c":"b10","i":4,"f":30.0,"p":2.06},
  {"m":"O","c":"o1","i":0,"f":35.1,"p":6.283},{"m":"O","c":"o1","i":1,"f":35.4,"p":5.56},{"m":"O","c":"o1","i":2,"f":33.8,"p":4.9},{"m":"O","c":"o1","i":3,"f":30.7,"p":4.37},{"m":"O","c":"o1","i":4,"f":27.3,"p":3.91},{"m":"O","c":"o1","i":5,"f":27.6,"p":3.55},{"m":"O","c":"o1","i":6,"f":31.5,"p":3.47},{"m":"O","c":"o1","i":7,"f":35.4,"p":3.64},{"m":"O","c":"o1","i":8,"f":39.3,"p":4.04},{"m":"O","c":"o1","i":9,"f":42.4,"p":4.5},{"m":"O","c":"o1","i":10,"f":44.7,"p":4.63},{"m":"O","c":"o1","i":11,"f":46.5,"p":4.5},{"m":"O","c":"o1","i":12,"f":49.3,"p":4.63},{"m":"O","c":"o1","i":13,"f":54.0,"p":5.09},{"m":"O","c":"o1","i":14,"f":60.2,"p":5.49},{"m":"O","c":"o1","i":15,"f":66.4,"p":5.75},{"m":"O","c":"o1","i":16,"f":72.6,"p":5.93},{"m":"O","c":"o1","i":17,"f":78.5,"p":5.98},
  {"m":"O","c":"o2","i":0,"f":78.5,"p":5.85},{"m":"O","c":"o2","i":1,"f":71.0,"p":5.62},{"m":"O","c":"o2","i":2,"f":64.1,"p":5.29},{"m":"O","c":"o2","i":3,"f":57.9,"p":4.76},{"m":"O","c":"o2","i":4,"f":53.2,"p":4.17},{"m":"O","c":"o2","i":5,"f":51.2,"p":3.57},{"m":"O","c":"o2","i":6,"f":52.4,"p":3.2},{"m":"O","c":"o2","i":7,"f":56.3,"p":3.24},{"m":"O","c":"o2","i":8,"f":61.7,"p":3.57},{"m":"O","c":"o2","i":9,"f":67.9,"p":3.84},{"m":"O","c":"o2","i":10,"f":74.1,"p":4.0},{"m":"O","c":"o2","i":11,"f":78.5,"p":4.08},
  {"m":"O","c":"o3","i":0,"f":78.5,"p":3.07},{"m":"O","c":"o3","i":1,"f":73.4,"p":2.94},{"m":"O","c":"o3","i":2,"f":67.2,"p":2.72},{"m":"O","c":"o3","i":3,"f":61.7,"p":2.39},{"m":"O","c":"o3","i":4,"f":57.1,"p":2.06},{"m":"O","c":"o3","i":5,"f":52.4,"p":1.79},{"m":"O","c":"o3","i":6,"f":47.8,"p":1.46},{"m":"O","c":"o3","i":7,"f":43.1,"p":1.26},{"m":"O","c":"o3","i":8,"f":38.8,"p":1.0},{"m":"O","c":"o3","i":9,"f":36.6,"p":0.73},{"m":"O","c":"o3","i":10,"f":35.7,"p":0.4},{"m":"O","c":"o3","i":11,"f":35.4,"p":0},
  {"m":"O","c":"o4","i":0,"f":18.3,"p":5.82},{"m":"O","c":"o4","i":1,"f":22.2,"p":5.89},{"m":"O","c":"o4","i":2,"f":22.7,"p":5.58},{"m":"O","c":"o4","i":3,"f":19.6,"p":5.53},{"m":"O","c":"o4","i":4,"f":18.3,"p":5.82},
  {"m":"O","c":"o5","i":0,"f":20.7,"p":5.29},{"m":"O","c":"o5","i":1,"f":23.8,"p":5.19},{"m":"O","c":"o5","i":2,"f":22.7,"p":5.0},{"m":"O","c":"o5","i":3,"f":20.2,"p":5.09},{"m":"O","c":"o5","i":4,"f":20.7,"p":5.29},
  {"m":"O","c":"o6","i":0,"f":5.0,"p":4.92},{"m":"O","c":"o6","i":1,"f":8.3,"p":4.83},{"m":"O","c":"o6","i":2,"f":11.4,"p":4.53},{"m":"O","c":"o6","i":3,"f":10.3,"p":4.26},{"m":"O","c":"o6","i":4,"f":7.5,"p":4.43},{"m":"O","c":"o6","i":5,"f":5.0,"p":4.63},
  {"m":"O","c":"o7","i":0,"f":5.0,"p":2.52},{"m":"O","c":"o7","i":1,"f":6.7,"p":2.41},{"m":"O","c":"o7","i":2,"f":7.5,"p":2.12},{"m":"O","c":"o7","i":3,"f":5.9,"p":1.99},{"m":"O","c":"o7","i":4,"f":5.0,"p":2.06},
  {"m":"O","c":"o8","i":0,"f":10.3,"p":1.2},{"m":"O","c":"o8","i":1,"f":13.7,"p":1.46},{"m":"O","c":"o8","i":2,"f":16.5,"p":2.06},{"m":"O","c":"o8","i":3,"f":21.4,"p":2.25},{"m":"O","c":"o8","i":4,"f":26.9,"p":2.72},{"m":"O","c":"o8","i":5,"f":28.4,"p":2.58},{"m":"O","c":"o8","i":6,"f":26.4,"p":2.06},{"m":"O","c":"o8","i":7,"f":25.8,"p":1.46},{"m":"O","c":"o8","i":8,"f":21.4,"p":1.36},{"m":"O","c":"o8","i":9,"f":15.2,"p":1.23},{"m":"O","c":"o8","i":10,"f":10.3,"p":1.2},
  {"m":"O","c":"o9","i":0,"f":5.0,"p":0.4},{"m":"O","c":"o9","i":1,"f":7.5,"p":0.27},{"m":"O","c":"o9","i":2,"f":9.8,"p":0},
  {"m":"O","c":"o10","i":0,"f":74.1,"p":0},{"m":"O","c":"o10","i":1,"f":74.9,"p":0.27},{"m":"O","c":"o10","i":2,"f":78.5,"p":0.38}
 ],
 "wave": [
  {"f":20,"h":0.15,"dlo":0.08,"dhi":0.22,"lo":0.0,"hi":0.3},
  {"f":20.24,"h":-1.78,"dlo":-1.96,"dhi":-1.66,"lo":-2.22,"hi":-1.4},
  {"f":20.49,"h":0,"dlo":-0.06,"dhi":0.06,"lo":-0.12,"hi":0.12},
  {"f":20.74,"h":1.68,"dlo":1.55,"dhi":1.86,"lo":1.3,"hi":2.12},
  {"f":20.99,"h":0,"dlo":-0.06,"dhi":0.06,"lo":-0.12,"hi":0.12},
  {"f":21.25,"h":-1.45,"dlo":-1.78,"dhi":-1.28,"lo":-2.04,"hi":-1.05},
  {"f":21.53,"h":0,"dlo":-0.06,"dhi":0.06,"lo":-0.12,"hi":0.12},
  {"f":21.82,"h":1.49,"dlo":1.38,"dhi":1.64,"lo":1.15,"hi":1.88},
  {"f":22.12,"h":0,"dlo":-0.06,"dhi":0.06,"lo":-0.12,"hi":0.12},
  {"f":22.42,"h":-1.34,"dlo":-1.6,"dhi":-1.2,"lo":-1.82,"hi":-1.0},
  {"f":22.72,"h":0,"dlo":-0.06,"dhi":0.06,"lo":-0.12,"hi":0.12},
  {"f":23.02,"h":1.38,"dlo":1.29,"dhi":1.51,"lo":1.1,"hi":1.7},
  {"f":23.34,"h":0,"dlo":-0.06,"dhi":0.06,"lo":-0.12,"hi":0.12},
  {"f":23.66,"h":-1.27,"dlo":-1.42,"dhi":-1.18,"lo":-1.65,"hi":-0.98},
  {"f":24.01,"h":0,"dlo":-0.06,"dhi":0.06,"lo":-0.12,"hi":0.12},
  {"f":24.36,"h":1.28,"dlo":1.2,"dhi":1.38,"lo":1.02,"hi":1.57},
  {"f":24.74,"h":0,"dlo":-0.06,"dhi":0.06,"lo":-0.12,"hi":0.12},
  {"f":25.13,"h":-1.29,"dlo":-1.45,"dhi":-1.19,"lo":-1.62,"hi":-1.02},
  {"f":25.54,"h":0,"dlo":-0.06,"dhi":0.06,"lo":-0.12,"hi":0.12},
  {"f":25.96,"h":1.27,"dlo":1.19,"dhi":1.38,"lo":1.03,"hi":1.55},
  {"f":26.43,"h":0,"dlo":-0.06,"dhi":0.06,"lo":-0.12,"hi":0.12},
  {"f":26.91,"h":-1.18,"dlo":-1.31,"dhi":-1.1,"lo":-1.49,"hi":-0.93},
  {"f":27.38,"h":0,"dlo":-0.06,"dhi":0.06,"lo":-0.12,"hi":0.12},
  {"f":27.87,"h":1.16,"dlo":1.09,"dhi":1.25,"lo":0.92,"hi":1.43},
  {"f":28.4,"h":0,"dlo":-0.06,"dhi":0.06,"lo":-0.12,"hi":0.12},
  {"f":28.95,"h":-1.05,"dlo":-1.12,"dhi":-0.99,"lo":-1.27,"hi":-0.85},
  {"f":29.48,"h":0,"dlo":-0.06,"dhi":0.06,"lo":-0.12,"hi":0.12},
  {"f":30.02,"h":0.965,"dlo":0.9,"dhi":1.0,"lo":0.76,"hi":1.15},
  {"f":30.62,"h":0,"dlo":-0.04,"dhi":0.04,"lo":-0.07,"hi":0.07},
  {"f":31.24,"h":-0.98,"dlo":-1.05,"dhi":-0.92,"lo":-1.16,"hi":-0.82},
  {"f":31.94,"h":0,"dlo":-0.04,"dhi":0.04,"lo":-0.07,"hi":0.07},
  {"f":32.65,"h":0.965,"dlo":0.9,"dhi":0.99,"lo":0.76,"hi":1.14},
  {"f":33.37,"h":0,"dlo":-0.04,"dhi":0.04,"lo":-0.07,"hi":0.07},
  {"f":34.1,"h":-0.85,"dlo":-0.88,"dhi":-0.81,"lo":-0.98,"hi":-0.74},
  {"f":34.86,"h":0,"dlo":-0.04,"dhi":0.04,"lo":-0.07,"hi":0.07},
  {"f":35.65,"h":0.79,"dlo":0.74,"dhi":0.82,"lo":0.68,"hi":0.88},
  {"f":36.52,"h":0,"dlo":-0.04,"dhi":0.04,"lo":-0.07,"hi":0.07},
  {"f":37.42,"h":-0.81,"dlo":-0.84,"dhi":-0.77,"lo":-0.89,"hi":-0.72},
  {"f":38.35,"h":0,"dlo":-0.04,"dhi":0.04,"lo":-0.07,"hi":0.07},
  {"f":39.3,"h":0.72,"dlo":0.67,"dhi":0.75,"lo":0.62,"hi":0.8},
  {"f":40.27,"h":0,"dlo":-0.04,"dhi":0.04,"lo":-0.07,"hi":0.07},
  {"f":41.27,"h":-0.65,"dlo":-0.68,"dhi":-0.62,"lo":-0.72,"hi":-0.58},
  {"f":42.39,"h":0,"dlo":-0.04,"dhi":0.04,"lo":-0.07,"hi":0.07},
  {"f":43.54,"h":0.64,"dlo":0.58,"dhi":0.66,"lo":0.54,"hi":0.69},
  {"f":44.62,"h":0,"dlo":-0.04,"dhi":0.04,"lo":-0.07,"hi":0.07},
  {"f":45.72,"h":-0.54,"dlo":-0.56,"dhi":-0.5,"lo":-0.59,"hi":-0.47},
  {"f":47.02,"h":0,"dlo":-0.025,"dhi":0.025,"lo":-0.045,"hi":0.045},
  {"f":48.37,"h":0.57,"dlo":0.5,"dhi":0.58,"lo":0.47,"hi":0.6},
  {"f":49.61,"h":0,"dlo":-0.025,"dhi":0.025,"lo":-0.045,"hi":0.045},
  {"f":50.89,"h":-0.52,"dlo":-0.54,"dhi":-0.49,"lo":-0.56,"hi":-0.46},
  {"f":52.28,"h":0,"dlo":-0.025,"dhi":0.025,"lo":-0.045,"hi":0.045},
  {"f":53.71,"h":0.46,"dlo":0.4,"dhi":0.47,"lo":0.38,"hi":0.49},
  {"f":55.17,"h":0,"dlo":-0.025,"dhi":0.025,"lo":-0.045,"hi":0.045},
  {"f":56.66,"h":-0.45,"dlo":-0.47,"dhi":-0.43,"lo":-0.49,"hi":-0.41},
  {"f":58.06,"h":0,"dlo":-0.025,"dhi":0.025,"lo":-0.045,"hi":0.045},
  {"f":59.5,"h":0.41,"dlo":0.38,"dhi":0.43,"lo":0.36,"hi":0.45},
  {"f":61.12,"h":0,"dlo":-0.025,"dhi":0.025,"lo":-0.045,"hi":0.045},
  {"f":62.78,"h":-0.36,"dlo":-0.38,"dhi":-0.34,"lo":-0.4,"hi":-0.33},
  {"f":64.32,"h":0,"dlo":-0.025,"dhi":0.025,"lo":-0.045,"hi":0.045},
  {"f":65.91,"h":0.34,"dlo":0.31,"dhi":0.35,"lo":0.3,"hi":0.37},
  {"f":67.54,"h":0,"dlo":-0.025,"dhi":0.025,"lo":-0.045,"hi":0.045},
  {"f":69.22,"h":-0.36,"dlo":-0.38,"dhi":-0.34,"lo":-0.4,"hi":-0.33},
  {"f":70.92,"h":0,"dlo":-0.025,"dhi":0.025,"lo":-0.045,"hi":0.045},
  {"f":72.68,"h":0.32,"dlo":0.3,"dhi":0.34,"lo":0.29,"hi":0.36},
  {"f":74.47,"h":0,"dlo":-0.025,"dhi":0.025,"lo":-0.045,"hi":0.045},
  {"f":76.3,"h":-0.32,"dlo":-0.34,"dhi":-0.3,"lo":-0.36,"hi":-0.29},
  {"f":78.2,"h":0,"dlo":-0.025,"dhi":0.025,"lo":-0.045,"hi":0.045},
  {"f":80,"h":0.27,"dlo":0.25,"dhi":0.29,"lo":0.24,"hi":0.31}
 ],
 "amp": [
  {"f":20,"med":1.11,"lower":0.94,"upper":1.265,"unl":1},{"f":25,"med":1.09,"lower":0.94,"upper":1.25,"unl":1},{"f":30,"med":1.04,"lower":0.92,"upper":1.2,"unl":1},{"f":35,"med":1.0,"lower":0.87,"upper":1.12,"unl":1},{"f":40,"med":0.96,"lower":0.81,"upper":1.05,"unl":1},{"f":45,"med":0.92,"lower":0.76,"upper":1.03,"unl":1},{"f":50,"med":0.9,"lower":0.72,"upper":1.03,"unl":1},{"f":55,"med":0.91,"lower":0.73,"upper":1.04,"unl":1},{"f":60,"med":0.95,"lower":0.8,"upper":1.08,"unl":1},{"f":65,"med":1.0,"lower":0.86,"upper":1.14,"unl":1},{"f":70,"med":1.05,"lower":0.91,"upper":1.2,"unl":1},{"f":75,"med":1.09,"lower":0.94,"upper":1.25,"unl":1},{"f":80,"med":1.11,"lower":0.94,"upper":1.26,"unl":1}
 ]
},
"spacing": 45,
"resolve": {"scale": {"color": "independent"}, "legend": {"color": "independent"}},
"hconcat": [
 {
  "columns": 3,
  "bounds": "flush",
  "spacing": {"row": 8, "column": 8},
  "concat": [
   {
    "width": 158, "height": 157.5,
    "view": {"stroke": "#aaaaaa"},
    "resolve": {"scale": {"y": "independent"}},
    "layer": [
     {"data": {"name": "hb"}, "mark": {"type": "line", "interpolate": "step-after", "strokeWidth": 1.3, "opacity": 0.9, "clip": true},
      "encoding": {
       "x": {"field": "b", "type": "quantitative", "scale": {"domain": [0, 0.6], "nice": false, "zero": false}, "axis": {"values": [0.15, 0.3, 0.45], "tickCount": 10, "labels": false, "grid": true, "title": null}},
       "y": {"field": "v", "type": "quantitative", "scale": {"domain": [0, 1], "nice": false}, "axis": null},
       "color": {"field": "m", "type": "nominal", "scale": {"domain": ["S", "O"], "range": ["#1a1af2", "#f5923a"]},
        "legend": {"orient": "none", "legendX": 314, "legendY": -47, "title": null, "labelExpr": "datum.label == 'S' ? 'SEOBNRv5HM_ROM' : 'IMRPhenomXPHM'", "labelFontSize": 16.5, "labelLimit": 400, "symbolType": "M-1,0H1", "symbolSize": 64, "symbolStrokeWidth": 3.5, "labelOffset": 20, "rowPadding": 8, "padding": 7, "strokeColor": "#555555", "fillColor": "#ffffff", "cornerRadius": 0}}}},
     {"data": {"name": "ann"}, "transform": [{"filter": "datum.param == 'b'"}],
      "mark": {"type": "text", "align": "right", "baseline": "middle", "font": "DejaVu Sans", "fontSize": 14.5},
      "encoding": {"x": {"datum": 0.3076}, "y": {"field": "m", "type": "nominal", "scale": {"domain": ["S", "O"], "range": [-37, -14], "padding": 0}, "axis": null}, "text": {"field": "main"}, "color": {"field": "m", "type": "nominal", "scale": {"domain": ["S", "O"], "range": ["#1a1af2", "#f5923a"]}}}},
     {"data": {"name": "ann"}, "transform": [{"filter": "datum.param == 'b'"}],
      "mark": {"type": "text", "align": "left", "baseline": "middle", "font": "DejaVu Sans", "fontSize": 11, "dx": 2, "dy": -5.5},
      "encoding": {"x": {"datum": 0.3076}, "y": {"field": "m", "type": "nominal", "scale": {"domain": ["S", "O"], "range": [-37, -14], "padding": 0}, "axis": null}, "text": {"field": "sup"}, "color": {"field": "m", "type": "nominal", "scale": {"domain": ["S", "O"], "range": ["#1a1af2", "#f5923a"]}}}},
     {"data": {"name": "ann"}, "transform": [{"filter": "datum.param == 'b'"}],
      "mark": {"type": "text", "align": "left", "baseline": "middle", "font": "DejaVu Sans", "fontSize": 11, "dx": 2, "dy": 5.5},
      "encoding": {"x": {"datum": 0.3076}, "y": {"field": "m", "type": "nominal", "scale": {"domain": ["S", "O"], "range": [-37, -14], "padding": 0}, "axis": null}, "text": {"field": "sub"}, "color": {"field": "m", "type": "nominal", "scale": {"domain": ["S", "O"], "range": ["#1a1af2", "#f5923a"]}}}}
    ]
   },
   {
    "width": 158, "height": 157.5,
    "view": {"stroke": null},
    "data": {"values": [{"caption": "Comparison of lensing parameters\nfrom different waveforms"}]},
    "mark": {"type": "text", "fontSize": 21, "lineBreak": "\n", "lineHeight": 24, "align": "center", "baseline": "middle", "font": "Liberation Sans"},
    "encoding": {
     "x": {"datum": 1.155, "type": "quantitative", "scale": {"domain": [0, 1]}, "axis": null},
     "y": {"datum": 0.835, "type": "quantitative", "scale": {"domain": [0, 1]}, "axis": null},
     "text": {"field": "caption"}
    }
   },
   {
    "width": 158, "height": 157.5,
    "view": {"stroke": null},
    "data": {"values": []},
    "mark": {"type": "point"}
   },
   {
    "width": 158, "height": 157.5,
    "view": {"stroke": "#aaaaaa"},
    "layer": [
     {"data": {"name": "dbf"}, "mark": {"type": "rect"},
      "encoding": {
       "x": {"field": "b1", "type": "quantitative", "scale": {"domain": [0, 0.6], "nice": false, "zero": false}, "axis": {"values": [0.15, 0.3, 0.45], "tickCount": 10, "labels": false, "grid": true, "title": null}},
       "x2": {"field": "b2"},
       "y": {"field": "f1", "type": "quantitative", "scale": {"domain": [5, 78.5], "nice": false, "zero": false}, "axis": {"values": [15, 30, 45, 60, 75], "tickCount": 10, "labelAngle": -45, "labelAlign": "right", "labelBaseline": "middle", "labelFontSize": 13, "labelPadding": 3, "grid": true, "title": "f₀ (Hz)", "titleFontSize": 18, "titleX": -57, "titleBaseline": "middle"}},
       "y2": {"field": "f2"},
       "color": {"field": "m", "type": "nominal", "scale": {"domain": ["S", "O"], "range": ["#1a1af2", "#f5923a"]}},
       "opacity": {"field": "d", "type": "quantitative", "scale": {"domain": [0, 1], "range": [0, 0.85]}, "legend": null}}},
     {"data": {"name": "pbf"}, "mark": {"type": "circle", "size": 6, "opacity": 0.3},
      "encoding": {"x": {"field": "b", "type": "quantitative"}, "y": {"field": "f0", "type": "quantitative"}, "color": {"field": "m", "type": "nominal", "scale": {"domain": ["S", "O"], "range": ["#1a1af2", "#f5923a"]}}}},
     {"data": {"name": "cbf"}, "mark": {"type": "line", "strokeWidth": 1.8, "clip": true},
      "encoding": {"x": {"field": "b", "type": "quantitative"}, "y": {"field": "f0", "type": "quantitative"}, "color": {"field": "m", "type": "nominal", "scale": {"domain": ["S", "O"], "range": ["#1a1af2", "#f5923a"]}}, "detail": {"field": "c"}, "order": {"field": "i", "type": "quantitative"}}}
    ]
   },
   {
    "width": 158, "height": 157.5,
    "view": {"stroke": "#aaaaaa"},
    "resolve": {"scale": {"y": "independent"}},
    "layer": [
     {"data": {"name": "hf"}, "mark": {"type": "line", "interpolate": "step-after", "strokeWidth": 1.3, "opacity": 0.9, "clip": true},
      "encoding": {
       "x": {"field": "f", "type": "quantitative", "scale": {"domain": [5, 78.5], "nice": false, "zero": false}, "axis": {"values": [15, 30, 45, 60, 75], "tickCount": 10, "labels": false, "grid": true, "title": null}},
       "y": {"field": "v", "type": "quantitative", "scale": {"domain": [0, 1], "nice": false}, "axis": null},
       "color": {"field": "m", "type": "nominal", "scale": {"domain": ["S", "O"], "range": ["#1a1af2", "#f5923a"]}}}},
     {"data": {"name": "ann"}, "transform": [{"filter": "datum.param == 'f0'"}],
      "mark": {"type": "text", "align": "right", "baseline": "middle", "font": "DejaVu Sans", "fontSize": 14.5},
      "encoding": {"x": {"datum": 49.2}, "y": {"field": "m", "type": "nominal", "scale": {"domain": ["S", "O"], "range": [-37, -14], "padding": 0}, "axis": null}, "text": {"field": "main"}, "color": {"field": "m", "type": "nominal", "scale": {"domain": ["S", "O"], "range": ["#1a1af2", "#f5923a"]}}}},
     {"data": {"name": "ann"}, "transform": [{"filter": "datum.param == 'f0'"}],
      "mark": {"type": "text", "align": "left", "baseline": "middle", "font": "DejaVu Sans", "fontSize": 11, "dx": 2, "dy": -5.5},
      "encoding": {"x": {"datum": 49.2}, "y": {"field": "m", "type": "nominal", "scale": {"domain": ["S", "O"], "range": [-37, -14], "padding": 0}, "axis": null}, "text": {"field": "sup"}, "color": {"field": "m", "type": "nominal", "scale": {"domain": ["S", "O"], "range": ["#1a1af2", "#f5923a"]}}}},
     {"data": {"name": "ann"}, "transform": [{"filter": "datum.param == 'f0'"}],
      "mark": {"type": "text", "align": "left", "baseline": "middle", "font": "DejaVu Sans", "fontSize": 11, "dx": 2, "dy": 5.5},
      "encoding": {"x": {"datum": 49.2}, "y": {"field": "m", "type": "nominal", "scale": {"domain": ["S", "O"], "range": [-37, -14], "padding": 0}, "axis": null}, "text": {"field": "sub"}, "color": {"field": "m", "type": "nominal", "scale": {"domain": ["S", "O"], "range": ["#1a1af2", "#f5923a"]}}}}
    ]
   },
   {
    "width": 158, "height": 157.5,
    "view": {"stroke": null},
    "data": {"values": []},
    "mark": {"type": "point"}
   },
   {
    "width": 158, "height": 157.5,
    "view": {"stroke": "#aaaaaa"},
    "layer": [
     {"data": {"name": "dpb"}, "mark": {"type": "rect"},
      "encoding": {
       "x": {"field": "b1", "type": "quantitative", "scale": {"domain": [0, 0.6], "nice": false, "zero": false}, "axis": {"values": [0.15, 0.3, 0.45], "tickCount": 10, "format": ".2f", "labelAngle": -45, "labelAlign": "right", "labelBaseline": "middle", "labelFontSize": 13, "labelPadding": 3, "grid": true, "title": "b", "titleFontSize": 18, "titleY": 56, "titleBaseline": "middle"}},
       "x2": {"field": "b2"},
       "y": {"field": "p1", "type": "quantitative", "scale": {"domain": [0, 6.283], "nice": false, "zero": false}, "axis": {"values": [1.5, 3, 4.5, 6], "tickCount": 10, "format": ".1f", "labelAngle": -45, "labelAlign": "right", "labelBaseline": "middle", "labelFontSize": 13, "labelPadding": 3, "grid": true, "title": "ϕ₀", "titleFontSize": 20, "titleX": -57, "titleBaseline": "middle"}},
       "y2": {"field": "p2"},
       "color": {"field": "m", "type": "nominal", "scale": {"domain": ["S", "O"], "range": ["#1a1af2", "#f5923a"]}},
       "opacity": {"field": "d", "type": "quantitative", "scale": {"domain": [0, 1], "range": [0, 0.85]}, "legend": null}}},
     {"data": {"name": "ppb"}, "mark": {"type": "circle", "size": 6, "opacity": 0.3},
      "encoding": {"x": {"field": "b", "type": "quantitative"}, "y": {"field": "p", "type": "quantitative"}, "color": {"field": "m", "type": "nominal", "scale": {"domain": ["S", "O"], "range": ["#1a1af2", "#f5923a"]}}}},
     {"data": {"name": "cpb"}, "mark": {"type": "line", "strokeWidth": 1.8, "clip": true},
      "encoding": {"x": {"field": "b", "type": "quantitative"}, "y": {"field": "p", "type": "quantitative"}, "color": {"field": "m", "type": "nominal", "scale": {"domain": ["S", "O"], "range": ["#1a1af2", "#f5923a"]}}, "detail": {"field": "c"}, "order": {"field": "i", "type": "quantitative"}}}
    ]
   },
   {
    "width": 158, "height": 157.5,
    "view": {"stroke": "#aaaaaa"},
    "layer": [
     {"data": {"name": "dpf"}, "mark": {"type": "rect"},
      "encoding": {
       "x": {"field": "f1", "type": "quantitative", "scale": {"domain": [5, 78.5], "nice": false, "zero": false}, "axis": {"values": [15, 30, 45, 60, 75], "tickCount": 10, "labelAngle": -45, "labelAlign": "right", "labelBaseline": "middle", "labelFontSize": 13, "labelPadding": 3, "grid": true, "title": "f₀ (Hz)", "titleFontSize": 18, "titleY": 56, "titleBaseline": "middle"}},
       "x2": {"field": "f2"},
       "y": {"field": "p1", "type": "quantitative", "scale": {"domain": [0, 6.283], "nice": false, "zero": false}, "axis": {"values": [1.5, 3, 4.5, 6], "tickCount": 10, "labels": false, "grid": true, "title": null}},
       "y2": {"field": "p2"},
       "color": {"field": "m", "type": "nominal", "scale": {"domain": ["S", "O"], "range": ["#1a1af2", "#f5923a"]}},
       "opacity": {"field": "d", "type": "quantitative", "scale": {"domain": [0, 1], "range": [0, 0.85]}, "legend": null}}},
     {"data": {"name": "ppf"}, "mark": {"type": "circle", "size": 6, "opacity": 0.3},
      "encoding": {"x": {"field": "f", "type": "quantitative"}, "y": {"field": "p", "type": "quantitative"}, "color": {"field": "m", "type": "nominal", "scale": {"domain": ["S", "O"], "range": ["#1a1af2", "#f5923a"]}}}},
     {"data": {"name": "cpf"}, "mark": {"type": "line", "strokeWidth": 1.8, "clip": true},
      "encoding": {"x": {"field": "f", "type": "quantitative"}, "y": {"field": "p", "type": "quantitative"}, "color": {"field": "m", "type": "nominal", "scale": {"domain": ["S", "O"], "range": ["#1a1af2", "#f5923a"]}}, "detail": {"field": "c"}, "order": {"field": "i", "type": "quantitative"}}}
    ]
   },
   {
    "width": 158, "height": 157.5,
    "view": {"stroke": "#aaaaaa"},
    "resolve": {"scale": {"y": "independent"}},
    "layer": [
     {"data": {"name": "hp"}, "mark": {"type": "line", "interpolate": "step-after", "strokeWidth": 1.3, "opacity": 0.9, "clip": true},
      "encoding": {
       "x": {"field": "p", "type": "quantitative", "scale": {"domain": [0, 6.283], "nice": false, "zero": false}, "axis": {"values": [1.5, 3, 4.5, 6], "tickCount": 10, "format": ".1f", "labelAngle": -45, "labelAlign": "right", "labelBaseline": "middle", "labelFontSize": 13, "labelPadding": 3, "grid": true, "title": "ϕ₀", "titleFontSize": 20, "titleY": 56, "titleBaseline": "middle"}},
       "y": {"field": "v", "type": "quantitative", "scale": {"domain": [0, 1], "nice": false}, "axis": null},
       "color": {"field": "m", "type": "nominal", "scale": {"domain": ["S", "O"], "range": ["#1a1af2", "#f5923a"]}}}},
     {"data": {"name": "ann"}, "transform": [{"filter": "datum.param == 'phi0'"}],
      "mark": {"type": "text", "align": "right", "baseline": "middle", "font": "DejaVu Sans", "fontSize": 14.5},
      "encoding": {"x": {"datum": 3.41}, "y": {"field": "m", "type": "nominal", "scale": {"domain": ["S", "O"], "range": [-37, -14], "padding": 0}, "axis": null}, "text": {"field": "main"}, "color": {"field": "m", "type": "nominal", "scale": {"domain": ["S", "O"], "range": ["#1a1af2", "#f5923a"]}}}},
     {"data": {"name": "ann"}, "transform": [{"filter": "datum.param == 'phi0'"}],
      "mark": {"type": "text", "align": "left", "baseline": "middle", "font": "DejaVu Sans", "fontSize": 11, "dx": 2, "dy": -5.5},
      "encoding": {"x": {"datum": 3.41}, "y": {"field": "m", "type": "nominal", "scale": {"domain": ["S", "O"], "range": [-37, -14], "padding": 0}, "axis": null}, "text": {"field": "sup"}, "color": {"field": "m", "type": "nominal", "scale": {"domain": ["S", "O"], "range": ["#1a1af2", "#f5923a"]}}}},
     {"data": {"name": "ann"}, "transform": [{"filter": "datum.param == 'phi0'"}],
      "mark": {"type": "text", "align": "left", "baseline": "middle", "font": "DejaVu Sans", "fontSize": 11, "dx": 2, "dy": 5.5},
      "encoding": {"x": {"datum": 3.41}, "y": {"field": "m", "type": "nominal", "scale": {"domain": ["S", "O"], "range": [-37, -14], "padding": 0}, "axis": null}, "text": {"field": "sub"}, "color": {"field": "m", "type": "nominal", "scale": {"domain": ["S", "O"], "range": ["#1a1af2", "#f5923a"]}}}}
    ]
   }
  ]
 },
 {
  "bounds": "flush",
  "spacing": 11.5,
  "resolve": {"scale": {"color": "independent"}, "legend": {"color": "independent"}},
  "vconcat": [
   {
    "width": 544, "height": 360,
    "view": {"stroke": "#999999"},
    "title": {"text": [" ", "×10⁻²³"], "anchor": "start", "frame": "group", "fontSize": 19, "lineHeight": 18, "fontWeight": "normal", "offset": 6, "dx": 4},
    "data": {"name": "wave"},
    "layer": [
     {"mark": {"type": "area", "interpolate": "monotone", "color": "#f9d39b", "opacity": 0.8},
      "encoding": {
       "x": {"field": "f", "type": "quantitative", "scale": {"type": "log", "domain": [20, 80], "nice": false}, "axis": {"values": [30, 40, 50, 60, 70], "tickCount": 10, "labels": false, "tickSize": 4, "tickColor": "#555555", "grid": false, "title": null}},
       "y": {"field": "lo", "type": "quantitative", "scale": {"domain": [-2.38, 2.31], "nice": false, "zero": false}, "axis": {"values": [-2, -1, 0, 1, 2], "tickCount": 10, "format": "d", "labelFontSize": 16, "labelPadding": 4, "tickSize": 5, "tickColor": "#333333", "grid": false, "title": "h(f)", "titleFontSize": 19, "titlePadding": 24}},
       "y2": {"field": "hi"}}},
     {"mark": {"type": "area", "interpolate": "monotone", "opacity": 1},
      "encoding": {
       "x": {"field": "f", "type": "quantitative"},
       "y": {"field": "dlo", "type": "quantitative"},
       "y2": {"field": "dhi"},
       "color": {"datum": "Lensed waveform", "type": "nominal", "scale": {"domain": ["Lensed waveform", "Unlensed waveform"], "range": ["#f4a63e", "#2f7d22"]},
        "legend": {"orient": "top-right", "offset": 10, "title": null, "labelFontSize": 19, "labelLimit": 400, "symbolType": "M-1,-0.55H1V0.55H-1Z", "symbolSize": 289, "symbolStrokeWidth": 0, "symbolOpacity": 1, "padding": 9, "rowPadding": 8, "labelOffset": 17, "strokeColor": "#aaaaaa", "fillColor": "#ffffff", "cornerRadius": 2}}}},
     {"mark": {"type": "line", "interpolate": "monotone", "strokeWidth": 2.6, "strokeDash": [5, 3.5]},
      "encoding": {
       "x": {"field": "f", "type": "quantitative"},
       "y": {"field": "h", "type": "quantitative"},
       "color": {"datum": "Unlensed waveform", "type": "nominal"}}}
    ]
   },
   {
    "width": 544, "height": 117,
    "view": {"stroke": "#999999"},
    "data": {"name": "amp"},
    "layer": [
     {"mark": {"type": "area", "interpolate": "monotone", "opacity": 0.85},
      "encoding": {
       "x": {"field": "f", "type": "quantitative", "scale": {"domain": [20, 80], "nice": false, "zero": false}, "axis": {"values": [20, 30, 40, 50, 60, 70, 80], "tickCount": 10, "format": "d", "labelFontSize": 16, "labelPadding": 3, "tickSize": 5, "tickColor": "#333333", "grid": false, "title": "Frequency (Hz)", "titleFontSize": 19, "titlePadding": 8}},
       "y": {"field": "lower", "type": "quantitative", "scale": {"domain": [0, 2], "nice": false, "zero": false}, "axis": {"values": [0, 1, 2], "tickCount": 10, "format": "d", "labelOverlap": false, "labelSeparation": -60, "labelFlush": false, "labelBound": false, "labelFontSize": 16, "labelPadding": 4, "tickSize": 5, "tickColor": "#333333", "grid": false, "title": "A(f)", "titleFontSize": 19, "titlePadding": 33}},
       "y2": {"field": "upper"},
       "color": {"datum": "95% CI", "type": "nominal", "scale": {"domain": ["Median Model", "95% CI"], "range": ["#f2a33a", "#fbd9a8"]},
        "legend": {"orient": "top-right", "offset": 10, "title": null, "labelFontSize": 18, "labelLimit": 400, "symbolType": "M-1,-0.55H1V0.55H-1Z", "symbolSize": 289, "symbolStrokeWidth": 0, "symbolOpacity": 1, "padding": 9, "rowPadding": 6, "labelOffset": 16, "strokeColor": "#aaaaaa", "fillColor": "rgba(255,255,255,0.8)", "cornerRadius": 2}}}},
     {"mark": {"type": "line", "interpolate": "monotone", "strokeWidth": 2.5},
      "encoding": {
       "x": {"field": "f", "type": "quantitative"},
       "y": {"field": "med", "type": "quantitative", "axis": {"values": [0, 1, 2], "tickCount": 10, "labelOverlap": false}},
       "color": {"datum": "Median Model", "type": "nominal"}}},
     {"mark": {"type": "line", "strokeDash": [6, 4], "strokeWidth": 2, "color": "#000000"},
      "encoding": {
       "x": {"field": "f", "type": "quantitative"},
       "y": {"field": "unl", "type": "quantitative", "axis": {"values": [0, 1, 2], "tickCount": 10, "labelOverlap": false}}}}
    ]
   }
  ]
 }
]
}
